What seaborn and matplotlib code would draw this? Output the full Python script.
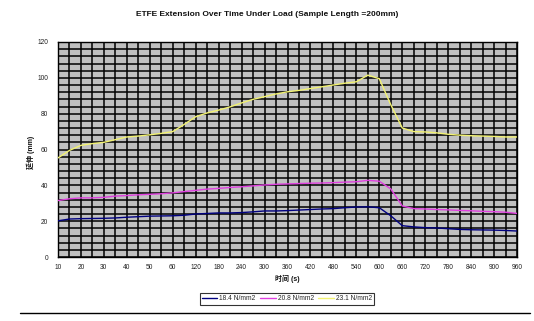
import numpy as np
import pandas as pd
import matplotlib
matplotlib.use("Agg")
import matplotlib.pyplot as plt
import seaborn as sns
from matplotlib.lines import Line2D

# ---- data ----
time_labels = ["10", "20", "30", "40", "50", "60", "120", "180", "240", "300",
               "360", "420", "480", "540", "600", "660", "720", "780", "840", "900", "960"]
# sample positions along the category axis (half-category steps)
positions = [i * 0.5 for i in range(41)]

load_184 = [20.2, 21.2, 21.4, 21.5, 21.6, 21.8, 22.2, 22.5, 22.8, 22.9,
            23.0, 23.3, 24.0, 24.3, 24.6, 24.6, 24.8, 25.2, 25.7, 25.7,
            25.9, 26.2, 26.5, 26.8, 27.0, 27.5, 27.9, 28.0, 27.5, 23.0,
            17.5, 16.8, 16.4, 16.2, 15.8, 15.4, 15.2, 15.1, 15.0, 14.8, 14.5]
load_208 = [31.5, 32.5, 33.0, 33.0, 33.3, 34.0, 34.3, 34.7, 35.0, 35.3,
            35.8, 36.5, 37.2, 37.9, 38.3, 38.8, 39.2, 39.7, 40.2, 40.6,
            40.8, 41.0, 41.2, 41.3, 41.5, 41.8, 42.0, 42.8, 42.3, 38.0,
            28.5, 27.0, 26.8, 26.5, 26.3, 26.0, 25.8, 25.5, 25.3, 25.0, 24.3]
load_231 = [55.3, 59.5, 62.3, 63.3, 64.0, 65.5, 67.0, 67.5, 68.2, 69.0,
            70.0, 74.0, 78.3, 80.4, 82.0, 83.8, 86.0, 88.0, 89.5, 91.0,
            92.2, 93.0, 94.0, 95.0, 96.0, 97.0, 97.8, 101.5, 99.5, 85.0,
            72.0, 70.0, 69.8, 69.3, 68.5, 68.0, 67.7, 67.5, 67.3, 67.0, 67.0]
series_names = ["18.4 N/mm2", "20.8 N/mm2", "23.1 N/mm2"]
series_colors = ["#000080", "#E040E0", "#F2F270"]

df = pd.concat([
    pd.DataFrame({"pos": positions, "value": vals, "series": name})
    for name, vals in zip(series_names, [load_184, load_208, load_231])
], ignore_index=True)

# ---- style ----
sns.set_theme(style="white")
plt.rcParams["font.family"] = ["Liberation Sans", "Noto Sans CJK SC", "DejaVu Sans"]

fig = plt.figure(figsize=(5.34, 3.21), dpi=100)
fig.patch.set_facecolor("white")
ax = fig.add_axes([58 / 534, 1 - 257 / 321, (517 - 58) / 534, (257 - 42) / 321])
ax.set_facecolor("#C0C0C0")

sns.lineplot(data=df, x="pos", y="value", hue="series", palette=series_colors,
             hue_order=series_names, linewidth=1.0, ax=ax, legend=False, zorder=3)

ax.set_xlim(0, 20)
ax.set_ylim(0, 120)
ax.set_xticks(range(len(time_labels)))
ax.set_xticklabels(time_labels)
ax.set_yticks(range(0, 121, 20))
ax.set_xticks(np.arange(0, 20.01, 0.5), minor=True)
ax.set_yticks(range(0, 121, 4), minor=True)
ax.grid(which="both", color="black", linewidth=1.1, zorder=1)
ax.set_axisbelow(True)
ax.tick_params(which="both", length=0)
ax.tick_params(axis="x", labelsize=4.8, pad=5, colors="#222222")
ax.tick_params(axis="y", labelsize=4.8, pad=7, colors="#222222")
for s in ax.spines.values():
    s.set_color("black")
    s.set_linewidth(1.0)
ax.set_xlabel("")
ax.set_ylabel("")

fig.text(267 / 534, 1 - 15 / 321, "ETFE Extension Over Time Under Load (Sample Length =200mm)",
         ha="center", va="center", fontsize=6, fontweight="bold", color="#111111")
fig.text(31 / 534, 1 - 152 / 321, "延伸 (mm)", rotation=90, ha="center", va="center",
         fontsize=5, fontweight="bold", color="#111111")
fig.text(287 / 534, 1 - 279 / 321, "时间 (s)", ha="center", va="center",
         fontsize=5, fontweight="bold", color="#111111")

handles = [Line2D([0], [0], color=c, lw=1.0) for c in series_colors]
leg = fig.legend(handles, series_names, loc="center", bbox_to_anchor=(287 / 534, 1 - 299 / 321),
                 ncol=3, fontsize=4.8, frameon=True, fancybox=False, handlelength=2.3,
                 handletextpad=0.3, columnspacing=0.7, borderpad=0.35)
leg.get_frame().set_edgecolor("black")
leg.get_frame().set_linewidth(0.8)

fig.add_artist(Line2D([20 / 534, 530 / 534], [1 - 313 / 321, 1 - 313 / 321],
                      color="black", lw=1.0, transform=fig.transFigure))

fig.savefig("out.png", dpi=100, facecolor="white")
